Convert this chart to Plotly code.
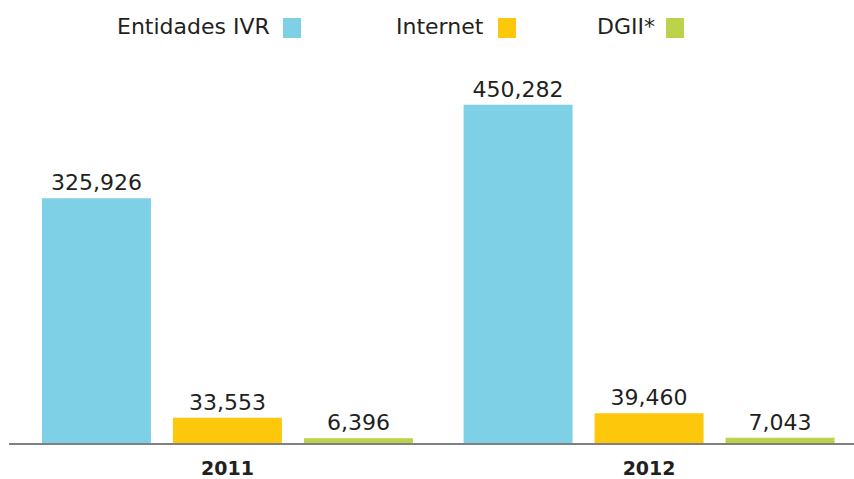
import plotly.graph_objects as go

years = ["2011", "2012"]
series_names = ["Entidades IVR", "Internet", "DGII*"]
ivr = [325926, 450282]
internet = [33553, 39460]
dgii = [6396, 7043]
colors = ["#7ED0E6", "#FDC70C", "#BBD34A"]

W, H = 854, 479
L, R, T, B = 9, 0, 60, 36
pw, ph = W - L - R, H - T - B

fig = go.Figure()
for name, vals, col in zip(series_names, [ivr, internet, dgii], colors):
    fig.add_trace(go.Bar(
        x=years, y=vals, name=name, marker=dict(color=col, line=dict(width=0)),
        text=[f"{v:,}" for v in vals], textposition="outside",
        textfont=dict(family="DejaVu Sans", size=22, color="#231F20"),
        cliponaxis=False, showlegend=False,
    ))

def px_x(p):
    return (p - L) / pw

def px_y(p):
    return (H - B - p) / ph

legend_items = [(272, 283, 301), (486, 498, 516), (657, 666, 684)]
annotations = []
shapes = []
for name, col, (tx, sx0, sx1) in zip(series_names, colors, legend_items):
    annotations.append(dict(
        text=name, x=px_x(tx), y=px_y(27), xref="paper", yref="paper",
        xanchor="right", yanchor="middle", showarrow=False,
        font=dict(family="DejaVu Sans", size=22, color="#231F20"),
    ))
    shapes.append(dict(type="rect", xref="paper", yref="paper",
                       x0=px_x(sx0), x1=px_x(sx1), y0=px_y(38), y1=px_y(18),
                       fillcolor=col, line=dict(width=0)))

fig.update_layout(
    width=W, height=H, margin=dict(l=L, r=R, t=T, b=B),
    paper_bgcolor="white", plot_bgcolor="white",
    barmode="group", bargap=0.068, bargroupgap=0.168,
    annotations=annotations, shapes=shapes,
    xaxis=dict(range=[-0.518, 1.486], showline=True, linecolor="#808080", linewidth=2,
               ticks="", showgrid=False, zeroline=False, ticklabelstandoff=7,
               automargin=False,
               tickfont=dict(family="DejaVu Sans", size=19, color="#231F20", weight="bold")),
    yaxis=dict(range=[0, 510000], visible=False, showgrid=False, zeroline=False,
               automargin=False),
)

fig.write_html("out.html", config={"displayModeBar": False},
               post_script="document.body.style.margin='0';document.body.style.overflow='hidden';")
